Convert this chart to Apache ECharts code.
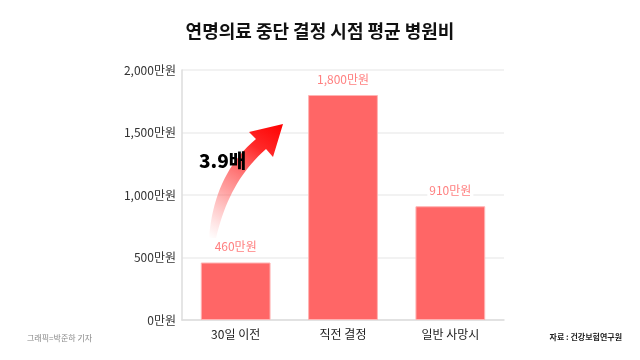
<!DOCTYPE html>
<html><head><meta charset="utf-8">
<script src="https://cdn.jsdelivr.net/npm/echarts@6/dist/echarts.min.js"></script>
<style>html,body{margin:0;padding:0;background:#fff}#c{width:640px;height:360px}</style>
</head><body><div id="c"></div>
<script>
const title = '연명의료 중단 결정 시점 평균 병원비';
const categories = ['30일 이전', '직전 결정', '일반 사망시'];
const values = [460, 1800, 910];
const yMin = 0, yMax = 2000, yInterval = 500;
const unit = '만원';
const ratioText = '3.9배';
const credit = '그래픽=박준하 기자';
const source = '자료 : 건강보험연구원';

function fmt(v){ return String(v).replace(/\B(?=(\d{3})+(?!\d))/g, ',') + unit; }
const FONT = '"Noto Sans CJK KR", "Noto Sans", sans-serif';

// decorative arrow outline (pixel space)
function bez(p0,p1,p2,p3,n){
  const out=[];
  for(let i=0;i<=n;i++){const t=i/n,u=1-t;
    out.push([u*u*u*p0[0]+3*u*u*t*p1[0]+3*u*t*t*p2[0]+t*t*t*p3[0],
              u*u*u*p0[1]+3*u*u*t*p1[1]+3*u*t*t*p2[1]+t*t*t*p3[1]]);}
  return out;
}
const arrowPts = [].concat(
  bez([209,238],[212,200],[225,165],[256,139],20),
  [[249,132],[283,124],[273,157]],
  bez([266,149],[240,172],[225,200],[216,238],20)
);

const chart = echarts.init(document.getElementById('c'), null, {renderer:'canvas'});
chart.setOption({
  backgroundColor:'#fff',
  animation:false,
  textStyle:{fontFamily:FONT},
  title:{text:title,left:'center',top:17,textStyle:{fontFamily:FONT,fontSize:18,fontWeight:'bold',color:'#111'}},
  grid:{left:182,right:136,top:70,bottom:40,containLabel:false},
  xAxis:{type:'category',data:categories,
    axisLine:{show:true,lineStyle:{color:'#dddddd',width:1.5}},
    axisTick:{show:false},
    axisLabel:{color:'#222',fontSize:12,margin:8,fontFamily:FONT}},
  yAxis:{type:'value',min:yMin,max:yMax,interval:yInterval,
    axisLine:{show:true,lineStyle:{color:'#dddddd',width:1.5}},
    axisTick:{show:false},
    splitLine:{lineStyle:{color:'#eeeeee',width:1.5}},
    axisLabel:{color:'#333',fontSize:12,margin:6,fontFamily:FONT,formatter:v=>fmt(v)}},
  series:[{type:'bar',data:values,barWidth:'65%',
    itemStyle:{color:'#ff6666',borderColor:'#ffb3b3',borderWidth:1},
    label:{show:true,position:'top',distance:10,color:'#ff8080',fontSize:12,fontFamily:FONT,
      backgroundColor:'#fff',padding:[0,2],formatter:p=>fmt(p.value)}}],
  graphic:[
    {type:'polygon',z:10,shape:{points:arrowPts},
      style:{fill:{type:'linear',x:0,y:1,x2:1,y2:0,global:false,colorStops:[
        {offset:0,color:'rgba(255,120,120,0)'},
        {offset:0.35,color:'rgba(255,90,90,0.55)'},
        {offset:0.75,color:'rgba(255,30,30,0.95)'},
        {offset:1,color:'#ff0000'}]}}},
    {type:'text',z:11,left:199,top:151,style:{text:ratioText,fontFamily:FONT,fontSize:19,fontWeight:900,fill:'#000'}},
    {type:'text',left:27,top:334,style:{text:credit,fontFamily:FONT,fontSize:8,fill:'#888'}},
    {type:'text',right:18,top:333,style:{text:source,fontFamily:FONT,fontSize:8,fontWeight:'bold',fill:'#222'}}
  ]
});
</script></body></html>
